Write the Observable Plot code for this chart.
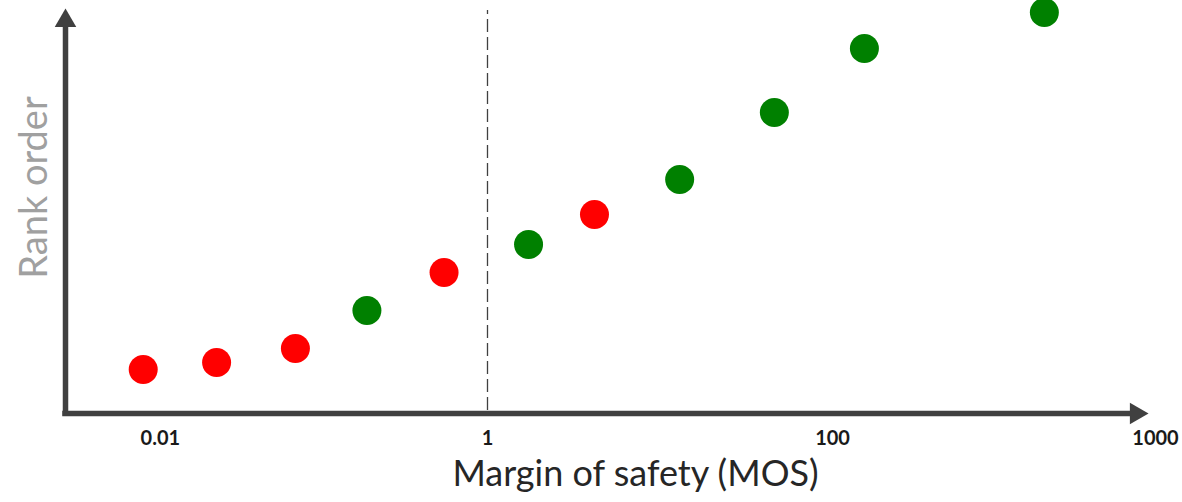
<!DOCTYPE html>
<html><head><meta charset="utf-8">
<script src="https://cdn.jsdelivr.net/npm/d3@7"></script>
<script src="https://cdn.jsdelivr.net/npm/@observablehq/plot@0.6"></script>
<style>body{margin:0;background:#fff;font-family:Lato,sans-serif;}</style>
</head><body><div id="chart"></div>
<script>
// Data (x: margin of safety, log scale; y: rank order height)
const mos    = [0.0101, 0.0269, 0.077, 0.20, 0.56, 1.73, 4.17, 13.0, 46, 153, 1690];
const rank   = [44, 51, 65, 103, 141, 169, 199, 234, 301, 365, 401];
const status = ["fail","fail","fail","pass","fail","pass","fail","pass","pass","pass","pass"];
const threshold = [1];
const tickAt     = [0.0127, 1, 100, 7450];
const tickLabels = ["0.01", "1", "100", "1000"];
const xTitle = "Margin of safety (MOS)";
const yTitle = "Rank order";

// layout constants (axis geometry)
const X0 = 0.00358, XMAX = 9100, XHEAD = 5750;
const YMAX = 405, YHEAD = 392.6;
const AX = "#404040";

const points = mos.map((m, i) => ({mos: m, rank: rank[i], status: status[i]}));
const ticks = tickAt.map((t, i) => ({t, label: tickLabels[i]}));

const chart = Plot.plot({
  width: 1182, height: 502,
  marginLeft: 65, marginRight: 12, marginTop: 8, marginBottom: 89,
  x: {type: "log", domain: [X0, XMAX], axis: null},
  y: {domain: [0, YMAX], axis: null},
  color: {domain: ["fail", "pass"], range: ["#ff0000", "#008000"]},
  style: {fontFamily: "Lato, sans-serif", background: "#fff"},
  marks: [
    Plot.ruleX(threshold, {y1: 3, y2: 403, stroke: AX, strokeWidth: 1.3, strokeDasharray: "13,5"}),
    Plot.ruleY([0], {x1: X0, x2: XHEAD, stroke: AX, strokeWidth: 5.5, strokeLinecap: "square"}),
    Plot.ruleX([X0], {y1: 0, y2: YHEAD, stroke: AX, strokeWidth: 5.5, strokeLinecap: "square"}),
    Plot.dot([0], {x: () => XHEAD, y: () => 0, symbol: "triangle", r: 8, fill: AX, rotate: 90, stroke: null}),
    Plot.dot([0], {x: () => X0, y: () => YHEAD, symbol: "triangle", r: 8, fill: AX, stroke: null}),
    Plot.dot(points, {x: "mos", y: "rank", fill: "status", r: 14.5, stroke: null}),
    Plot.text(ticks, {x: "t", text: "label", frameAnchor: "bottom", dy: 25.5, lineAnchor: "middle",
      fontSize: 20, fontWeight: "bold", fill: "#1a1a1a"}),
    Plot.text([xTitle], {frameAnchor: "bottom", dx: 17.5, dy: 61, lineAnchor: "middle",
      textAnchor: "middle", fontSize: 36, fill: "#262626"}),
    Plot.text([yTitle], {frameAnchor: "left", rotate: -90, dx: -31, dy: -23.5, lineAnchor: "middle",
      textAnchor: "middle", fontSize: 38, fill: "#a0a0a0"})
  ]
});
document.getElementById("chart").appendChild(chart);
</script>
</body></html>
